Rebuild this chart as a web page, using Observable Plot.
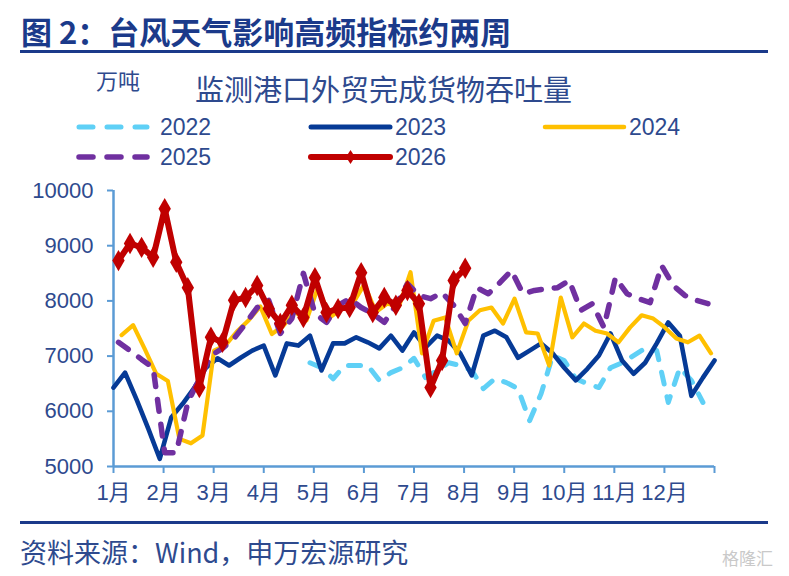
<!DOCTYPE html>
<html>
<head>
<meta charset="utf-8">
<script src="https://cdn.jsdelivr.net/npm/d3@7"></script>
<script src="https://cdn.jsdelivr.net/npm/@observablehq/plot@0.6"></script>
<style>
  html, body { margin: 0; padding: 0; background: #ffffff; }
  #page { position: relative; width: 789px; height: 576px; overflow: hidden;
          font-family: "Liberation Sans", "Noto Sans CJK SC", sans-serif; }
  .abs { position: absolute; white-space: nowrap; }
  #header { position: relative; height: 180px; }
  #footer { position: relative; height: 66px; }
  .cjk { font-family: "Noto Sans CJK SC", sans-serif; }
</style>
</head>
<body>
<div id="page">
  <div id="header"></div>
  <div id="chart"></div>
  <div id="footer"></div>
</div>
<script>
// ---------------- data ----------------
const monthLabels = ["1月","2月","3月","4月","5月","6月","7月","8月","9月","10月","11月","12月"];
const yTicks = [5000, 6000, 7000, 8000, 9000, 10000];
const years = ["2022", "2023", "2024", "2025", "2026"];

// first week position of each series (weeks from Jan 1)
const start2022 = 17;
const start2023 = 0;
const start2024 = 0.7;
const start2025 = 0.43;
const start2026 = 0.43;

// weekly throughput, 万吨
const values2022 = [6880, 6790, 6590, 6830, 6830, 6830, 6560, 6700, 6790, 6960,
  6610, 6740, 6880, 6830, 6740, 6410, 6590, 6520, 6410, 5830,
  6320, 7010, 6920, 6590, 6500, 6430, 6790, 6880, 7010, 7140,
  7100, 6160, 6790, 6560, 6160];
const values2023 = [6430, 6700, 6210, 5690, 5140, 5890, 6140, 6430, 6790, 6960,
  6830, 6970, 7100, 7190, 6650, 7230, 7190, 7370, 6740, 7230,
  7230, 7340, 7250, 7140, 7370, 7100, 7430, 7160, 7370, 7280,
  7050, 6650, 7370, 7460, 7340, 6970, 7100, 7230, 7050, 6790,
  6560, 6770, 7010, 7410, 6920, 6680, 6880, 7230, 7610, 7370,
  6280, 6610, 6920];
const values2024 = [7380, 7560, 7130, 6680, 6550, 5500, 5420, 5560, 7100, 7200,
  7450, 7650, 7900, 7400, 7550, 7800, 7650, 8250, 7700, 7850,
  7950, 8300, 7800, 7950, 7900, 8520, 7050, 7640, 7700, 7050,
  7640, 7830, 7880, 7590, 8040, 7430, 7410, 6830, 8060, 7340,
  7590, 7460, 7410, 7250, 7520, 7740, 7680, 7520, 7320, 7250,
  7370, 7050];
const values2025 = [7250, 7100, 6940, 6790, 5250, 5250, 6160, 6590, 7010, 7140,
  7320, 7590, 7880, 8010, 7410, 7680, 8500, 7770, 7610, 7920,
  8040, 7880, 7770, 7610, 7920, 8310, 8100, 8040, 8150, 7920,
  7590, 8240, 8130, 8330, 8550, 8130, 8190, 8220, 8240, 8370,
  7830, 7950, 7520, 8420, 8130, 8040, 7970, 8640, 8280, 8100,
  8010, 7950];
const values2026 = [8730, 9040, 8970, 8790, 9670, 8700, 8240, 6430, 7340, 7250,
  8010, 8060, 8280, 7860, 7590, 7920, 7700, 8420, 7790, 7860,
  7880, 8510, 7790, 8060, 7920, 8190, 7950, 6430, 6920, 8370,
  8590];

// ---------------- styles ----------------
const NAVY = "#1b3a8a";
const TXT = "#2e4a8e";
const AX = "#5b9bd5";
const C = { "2022": "#5fd0f6", "2023": "#063a96", "2024": "#ffc000", "2025": "#7030a0", "2026": "#c00000" };

function toRows(year, start, vals) {
  return vals.map((v, i) => ({ year, week: start + i, value: v }));
}
const d2022 = toRows("2022", start2022, values2022);
const d2023 = toRows("2023", start2023, values2023);
const d2024 = toRows("2024", start2024, values2024);
const d2025 = toRows("2025", start2025, values2025);
const d2026 = toRows("2026", start2026, values2026);

const monthTicks = d3.range(13).map(m => m * 52 / 12);

// ---------------- header ----------------
const header = document.getElementById("header");
header.innerHTML = `
  <div class="abs cjk" style="left:21px;top:13px;font-size:31px;line-height:35px;font-weight:700;color:${NAVY};">图 2：台风天气影响高频指标约两周</div>
  <div class="abs" style="left:20px;top:50px;width:748px;height:3px;background:${NAVY};"></div>
  <div class="abs cjk" style="left:96px;top:66px;font-size:22px;line-height:26px;color:${TXT};">万吨</div>
  <div class="abs cjk" style="left:195px;top:71px;font-size:29px;line-height:34px;color:${TXT};">监测港口外贸完成货物吞吐量</div>
`;
const legendItems = [
  { year: "2022", x: 76, y: 127, dash: true, marker: false, w: 5 },
  { year: "2023", x: 311, y: 127, dash: false, marker: false, w: 5 },
  { year: "2024", x: 545, y: 127, dash: false, marker: false, w: 4.5 },
  { year: "2025", x: 76, y: 157, dash: true, marker: false, w: 5.5 },
  { year: "2026", x: 311, y: 157, dash: false, marker: true, w: 6 }
];
for (const it of legendItems) {
  const len = it.dash ? 77 : 79;
  const sw = document.createElementNS("http://www.w3.org/2000/svg", "svg");
  sw.setAttribute("width", len + 6);
  sw.setAttribute("height", 16);
  sw.style.position = "absolute";
  sw.style.left = (it.x - 3) + "px";
  sw.style.top = (it.y - 8) + "px";
  let inner = `<line x1="${it.dash ? 6 : 3}" y1="8" x2="${it.dash ? len - 3 : len + 3}" y2="8" stroke="${C[it.year]}" stroke-width="${it.w}" stroke-linecap="round" ${it.dash ? 'stroke-dasharray="14,14"' : ''}/>`;
  if (it.marker) inner += `<path transform="translate(${len / 2 + 3},8)" d="M0,-7L4.5,0L0,7L-4.5,0Z" fill="${C[it.year]}"/>`;
  sw.innerHTML = inner;
  header.appendChild(sw);
  const t = document.createElement("div");
  t.className = "abs";
  t.style.cssText = `left:${it.x + 84}px;top:${it.y - 14}px;font-size:23px;line-height:28px;color:${TXT};`;
  t.textContent = it.year;
  header.appendChild(t);
}

// ---------------- chart ----------------
const chart = Plot.plot({
  width: 789,
  height: 330,
  marginTop: 10,
  marginBottom: 44,
  marginLeft: 113,
  marginRight: 75,
  style: { fontFamily: '"Liberation Sans", "Noto Sans CJK SC", sans-serif', fontSize: "22px", color: TXT, background: "transparent", overflow: "visible" },
  x: { domain: [0, 52] },
  y: { domain: [5000, 10000] },
  marks: [
    Plot.axisY({ ticks: yTicks, tickSize: 6, tickPadding: 14, stroke: AX, strokeWidth: 2, fill: TXT, tickFormat: d => String(d), label: null, fontSize: 22 }),
    Plot.axisX({ ticks: monthTicks, tickSize: 7, tickPadding: 11, stroke: AX, strokeWidth: 2, fill: TXT, tickFormat: d => monthLabels[Math.round(d * 12 / 52)] ?? "", label: null, fontSize: 22 }),
    Plot.ruleX([0], { y1: 5000, y2: 10000, stroke: AX, strokeWidth: 2.5 }),
    Plot.ruleY([5000], { x1: 0, x2: 52, stroke: AX, strokeWidth: 2.5 }),
    Plot.line(d2022, { x: "week", y: "value", stroke: C["2022"], strokeWidth: 5, strokeDasharray: "12,13", strokeLinecap: "round" }),
    Plot.line(d2023, { x: "week", y: "value", stroke: C["2023"], strokeWidth: 4.6 }),
    Plot.line(d2024, { x: "week", y: "value", stroke: C["2024"], strokeWidth: 4.2 }),
    Plot.line(d2025, { x: "week", y: "value", stroke: C["2025"], strokeWidth: 5.5, strokeDasharray: "12,13", strokeLinecap: "round" }),
    Plot.line(d2026, { x: "week", y: "value", stroke: C["2026"], strokeWidth: 6 }),
    Plot.dot(d2026, { x: "week", y: "value", symbol: "diamond", r: 6.5, fill: C["2026"], stroke: "none" })
  ]
});
document.getElementById("chart").appendChild(chart);

// ---------------- footer ----------------
const footer = document.getElementById("footer");
footer.innerHTML = `
  <div class="abs" style="left:20px;top:11px;width:748px;height:3px;background:${NAVY};"></div>
  <div class="abs cjk" style="left:20px;top:25px;font-size:27px;line-height:34px;color:${TXT};">资料来源：Wind，申万宏源研究</div>
  <div class="abs cjk" style="left:722px;top:38px;font-size:17px;line-height:20px;color:#c9c9c9;">格隆汇</div>
`;
</script>
</body>
</html>
